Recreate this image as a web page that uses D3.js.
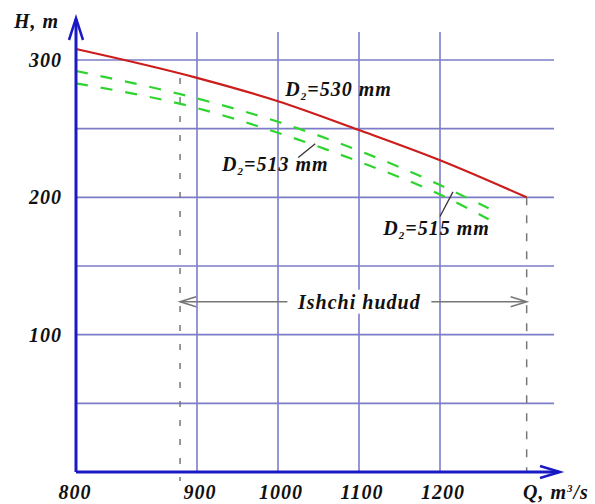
<!DOCTYPE html>
<html>
<head>
<meta charset="utf-8">
<script src="https://cdn.jsdelivr.net/npm/d3@7"></script>
<style>
  body { margin: 0; background: #fff; }
  text { font-family: "Liberation Serif", "Times New Roman", serif; font-weight: bold; font-style: italic; fill: #111; letter-spacing: 1px; }
</style>
</head>
<body>
<div class="canvas"></div>
<script>
// data
const qTicks = [800, 900, 1000, 1100, 1200];
const qGrid = [900, 1000, 1100, 1200];
const hTicks = [100, 200, 300];
const hGrid = [50, 100, 150, 200, 250, 300];

const q530 = [800, 900, 1000, 1100, 1200, 1307];
const h530 = [308, 287, 270, 249, 227, 200];
const qGreen = [800, 900, 1000, 1100, 1200, 1260];
const h515 = [292, 272, 255, 234, 209, 192];
const h513 = [283, 265, 247, 226, 202, 184];

const workRange = [886, 1307];
const workLabel = 'Ishchi hudud';

const dim = { width: 595, height: 504 };

const svg = d3.select('.canvas').append('svg')
    .attr('width', dim.width)
    .attr('height', dim.height);

// axis origin is labelled 800 but the first interval is wider
const x = d3.scaleLinear().domain([800, 900, 1300]).range([76, 197, 521]);
const y = d3.scaleLinear().domain([0, 300]).range([472, 60]);

const gridColor = '#7c7cc8';
const axisColor = '#1a1ac4';
const fs = 20;

// grid
svg.append('g').selectAll('line')
    .data(hGrid).enter().append('line')
    .attr('x1', x(800)).attr('x2', 554)
    .attr('y1', d => y(d)).attr('y2', d => y(d))
    .attr('stroke', gridColor).attr('stroke-width', 1.6);

svg.append('g').selectAll('line')
    .data(qGrid).enter().append('line')
    .attr('x1', d => x(d)).attr('x2', d => x(d))
    .attr('y1', y(0)).attr('y2', 32)
    .attr('stroke', gridColor).attr('stroke-width', 1.6);

// working range bounds
svg.append('line')
    .attr('x1', x(workRange[0])).attr('x2', x(workRange[0]))
    .attr('y1', 78).attr('y2', y(0) + 9)
    .attr('stroke', '#777').attr('stroke-width', 1.5)
    .attr('stroke-dasharray', '6,13');
svg.append('line')
    .attr('x1', x(workRange[1])).attr('x2', x(workRange[1]))
    .attr('y1', y(200)).attr('y2', y(0))
    .attr('stroke', '#777').attr('stroke-width', 1.5)
    .attr('stroke-dasharray', '8,10');

// curves
const line = d3.line()
    .x(d => x(d[0]))
    .y(d => y(d[1]))
    .curve(d3.curveMonotoneX);

const g515 = qGreen.map((q, i) => [q, h515[i]]);
const g513 = qGreen.map((q, i) => [q, h513[i]]);
const r530 = q530.map((q, i) => [q, h530[i]]);

[g515, g513].forEach(pts => {
    svg.append('path')
        .attr('d', line(pts))
        .attr('fill', 'none')
        .attr('stroke', '#2ed42e')
        .attr('stroke-width', 2.2)
        .attr('stroke-dasharray', '12,13');
});

svg.append('path')
    .attr('d', line(r530))
    .attr('fill', 'none')
    .attr('stroke', '#cc1c1c')
    .attr('stroke-width', 2.2);

// axes with arrows
svg.append('line')
    .attr('x1', x(800)).attr('x2', x(800))
    .attr('y1', y(0)).attr('y2', 19)
    .attr('stroke', axisColor).attr('stroke-width', 3);
svg.append('path')
    .attr('d', `M${x(800) - 7},40 L${x(800)},18 L${x(800) + 7},40`)
    .attr('fill', 'none').attr('stroke', axisColor).attr('stroke-width', 2.5);

svg.append('line')
    .attr('x1', x(800)).attr('x2', 559)
    .attr('y1', y(0)).attr('y2', y(0))
    .attr('stroke', axisColor).attr('stroke-width', 3);
svg.append('path')
    .attr('d', `M540,${y(0) - 6} L560,${y(0)} L540,${y(0) + 6}`)
    .attr('fill', 'none').attr('stroke', axisColor).attr('stroke-width', 2.5);

// tick labels
svg.append('g').selectAll('text')
    .data(hTicks).enter().append('text')
    .attr('x', 62).attr('y', d => y(d))
    .attr('dy', '0.35em')
    .attr('text-anchor', 'end')
    .attr('font-size', fs)
    .text(d => d);

svg.append('g').selectAll('text')
    .data(qTicks).enter().append('text')
    .attr('x', d => x(d) + (d === 800 ? -1 : 3)).attr('y', 499)
    .attr('text-anchor', 'middle')
    .attr('font-size', fs)
    .text(d => d);

svg.append('text')
    .attr('x', 14).attr('y', 28)
    .attr('font-size', fs)
    .text('H, m');

const qLab = svg.append('text')
    .attr('x', 523).attr('y', 499)
    .attr('font-size', fs)
    .text('Q, m');
qLab.append('tspan').attr('font-size', 11).attr('dy', -7).text('3');
qLab.append('tspan').attr('dy', 7).text('/s');

// curve labels
const curveLabels = [
    { d: '530', q: 1009, h: 279 },
    { d: '513', q: 931, h: 224 },
    { d: '515', q: 1130, h: 178 }
];
curveLabels.forEach(c => {
    const t = svg.append('text')
        .attr('x', x(c.q)).attr('y', y(c.h))
        .attr('dy', '0.35em')
        .attr('font-size', fs);
    t.append('tspan').text('D');
    t.append('tspan').attr('font-size', 11).attr('dy', 4).text('2');
    t.append('tspan').attr('dy', -4).text('=' + c.d + ' mm');
});

// leaders
const leaders = [
    [[1025, 229], [1046, 239]],
    [[1200, 186], [1216, 204]]
];
leaders.forEach(l => {
    svg.append('line')
        .attr('x1', x(l[0][0])).attr('y1', y(l[0][1]))
        .attr('x2', x(l[1][0])).attr('y2', y(l[1][1]))
        .attr('stroke', '#333').attr('stroke-width', 1.3);
});

// working range arrow
const hArrow = 124;
const xa = x(workRange[0]), xb = x(workRange[1]), ya = y(hArrow);
svg.append('line')
    .attr('x1', xa).attr('x2', xb).attr('y1', ya).attr('y2', ya)
    .attr('stroke', '#777').attr('stroke-width', 1.6);
svg.append('path')
    .attr('d', `M${xa + 16},${ya - 5} L${xa},${ya} L${xa + 16},${ya + 5}`)
    .attr('fill', 'none').attr('stroke', '#777').attr('stroke-width', 1.6);
svg.append('path')
    .attr('d', `M${xb - 16},${ya - 5} L${xb},${ya} L${xb - 16},${ya + 5}`)
    .attr('fill', 'none').attr('stroke', '#777').attr('stroke-width', 1.6);

const midX = (xa + xb) / 2 + 6;
svg.append('rect')
    .attr('x', midX - 72).attr('y', ya - 12)
    .attr('width', 144).attr('height', 24)
    .attr('fill', '#fff');
svg.append('text')
    .attr('x', midX).attr('y', ya)
    .attr('dy', '0.35em')
    .attr('text-anchor', 'middle')
    .attr('font-size', fs)
    .text(workLabel);
</script>
</body>
</html>
